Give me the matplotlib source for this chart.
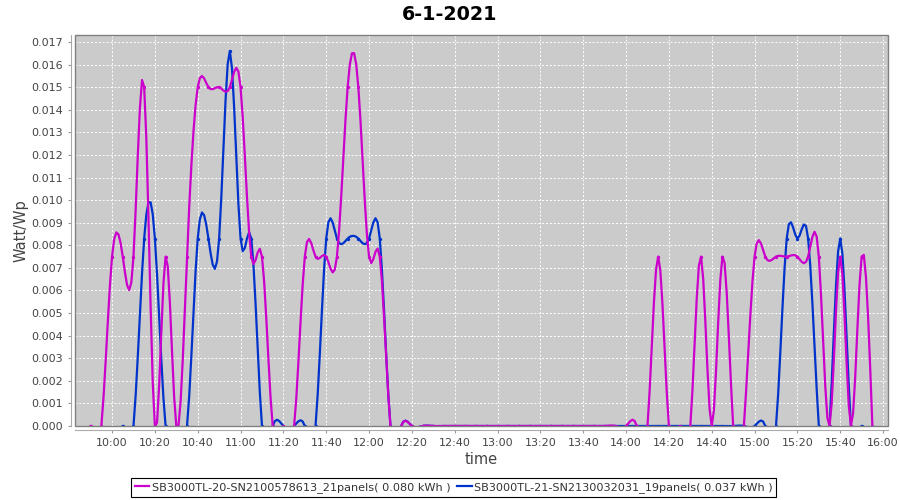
import numpy as np
import matplotlib
matplotlib.use("Agg")
import matplotlib.pyplot as plt
from matplotlib.patches import Rectangle

# ---------------- data ----------------
times = ["09:50", "09:55",
         "10:00", "10:05", "10:10", "10:15", "10:20", "10:25", "10:30", "10:35", "10:40", "10:45", "10:50", "10:55",
         "11:00", "11:05", "11:10", "11:15", "11:20", "11:25", "11:30", "11:35", "11:40", "11:45", "11:50", "11:55",
         "12:00", "12:05", "12:10", "12:15", "12:20", "12:25", "12:30", "12:35", "12:40", "12:45", "12:50", "12:55",
         "13:00", "13:05", "13:10", "13:15", "13:20", "13:25", "13:30", "13:35", "13:40", "13:45", "13:50", "13:55",
         "14:00", "14:05", "14:10", "14:15", "14:20", "14:25", "14:30", "14:35", "14:40", "14:45", "14:50", "14:55",
         "15:00", "15:05", "15:10", "15:15", "15:20", "15:25", "15:30", "15:35", "15:40", "15:45", "15:50", "15:55"]

# SB3000TL-20 (09:50 .. 15:55)
sb20 = [0, 0,
        0.0075, 0.0075, 0.0075, 0.0150, 0, 0.0075, 0, 0.0075, 0.0150, 0.0150, 0.0150, 0.0150,
        0.0150, 0.0075, 0.0075, 0, 0, 0, 0.0075, 0.0075, 0.0075, 0.0075, 0.0150, 0.0150,
        0.0075, 0.0075, 0, 0, 0, 0, 0, 0, 0, 0, 0, 0,
        0, 0, 0, 0, 0, 0, 0, 0, 0, 0, 0, 0,
        0, 0, 0, 0.0075, 0, 0, 0, 0.0075, 0, 0.0075, 0, 0,
        0.0075, 0.0075, 0.0075, 0.0075, 0.0075, 0.0075, 0.0075, 0, 0.0075, 0, 0.0075, 0]

# SB3000TL-21 (10:05 .. 15:50)
sb21_start, sb21_end = "10:05", "15:50"
sb21 = [0, 0, 0.0083, 0.0083, 0, 0, 0, 0.0083, 0.0083, 0.0083, 0.0166,
        0.0083, 0.0083, 0, 0, 0, 0, 0, 0, 0.0083, 0.0083, 0.0083, 0.0083,
        0.0083, 0.0083, 0, 0, 0, 0, 0, 0, 0, 0, 0, 0,
        0, 0, 0, 0, 0, 0, 0, 0, 0, 0, 0, 0,
        0, 0, 0, 0, 0, 0, 0, 0, 0, 0, 0, 0,
        0, 0, 0, 0.0083, 0.0083, 0.0083, 0, 0, 0.0083, 0, 0]

series_labels = ["SB3000TL-20-SN2100578613_21panels( 0.080 kWh )",
                 "SB3000TL-21-SN2130032031_19panels( 0.037 kWh )"]
series_colors = ["#cc00cc", "#0033cc"]

xtick_labels = ["10:00", "10:20", "10:40", "11:00", "11:20", "11:40", "12:00", "12:20", "12:40",
                "13:00", "13:20", "13:40", "14:00", "14:20", "14:40", "15:00", "15:20", "15:40", "16:00"]
ytick_values = [0.000, 0.001, 0.002, 0.003, 0.004, 0.005, 0.006, 0.007, 0.008,
                0.009, 0.010, 0.011, 0.012, 0.013, 0.014, 0.015, 0.016, 0.017]

title = "6-1-2021"
xlabel = "time"
ylabel = "Watt/Wp"


def to_min(s):
    h, m = s.split(":")
    return int(h) * 60 + int(m)


def natural_spline(x, y, per=5):
    x = np.asarray(x, float)
    y = np.asarray(y, float)
    n = len(x)
    h = np.diff(x)
    A = np.zeros((n, n))
    b = np.zeros(n)
    A[0, 0] = 1
    A[-1, -1] = 1
    for i in range(1, n - 1):
        A[i, i - 1] = h[i - 1]
        A[i, i] = 2 * (h[i - 1] + h[i])
        A[i, i + 1] = h[i]
        b[i] = 6 * ((y[i + 1] - y[i]) / h[i] - (y[i] - y[i - 1]) / h[i - 1])
    M = np.linalg.solve(A, b)
    xs, ys = [], []
    for i in range(n - 1):
        t = np.linspace(0, 1, per, endpoint=False)
        xx = x[i] + t * h[i]
        a = x[i + 1] - xx
        bb = xx - x[i]
        yy = (M[i] * a ** 3 / (6 * h[i]) + M[i + 1] * bb ** 3 / (6 * h[i])
              + (y[i] / h[i] - M[i] * h[i] / 6) * a + (y[i + 1] / h[i] - M[i + 1] * h[i] / 6) * bb)
        xs.extend(xx)
        ys.extend(yy)
    xs.append(x[-1])
    ys.append(y[-1])
    return np.array(xs), np.array(ys)


x20 = [to_min(t) for t in times]
i0, i1 = times.index(sb21_start), times.index(sb21_end)
x21 = [to_min(t) for t in times[i0:i1 + 1]]

fig = plt.figure(figsize=(9, 5), dpi=100)
fig.patch.set_facecolor("white")
ax = fig.add_axes([75 / 900, 1 - 426 / 500, (888 - 75) / 900, (426 - 35) / 500])
ax.set_facecolor("#cbcbcb")

handles = []
for xs_, vals, col, lab, z in [(x21, sb21, series_colors[1], series_labels[1], 3),
                               (x20, sb20, series_colors[0], series_labels[0], 4)]:
    sx, sy = natural_spline(xs_, vals, per=5)
    ln, = ax.plot(sx, sy, color=col, lw=1.6, zorder=z, label=lab, solid_joinstyle="round")
    ax.plot(xs_, vals, linestyle="none", marker="o", markersize=1.4, color=col, zorder=z)
    handles.append(ln)
handles = handles[::-1]

span = x20[-1] - x20[0]
ax.set_xlim(x20[0] - 0.02 * span, x20[-1] + 0.02 * span)
ax.set_ylim(0, 0.01731)

xt = [to_min(s) for s in xtick_labels]
ax.set_xticks(xt)
ax.set_xticklabels(xtick_labels)
ax.set_yticks(ytick_values)
ax.set_yticklabels(["%.3f" % v for v in ytick_values])

ax.grid(True, color="white", linestyle=(0, (2, 2)), linewidth=0.7)
ax.set_axisbelow(True)

for side in ["top", "right"]:
    ax.spines[side].set_visible(False)
for side in ["left", "bottom"]:
    ax.spines[side].set_position(("outward", 3))
    ax.spines[side].set_color("#aaaaaa")
    ax.spines[side].set_linewidth(0.8)
ax.add_patch(Rectangle((0, 0), 1, 1, transform=ax.transAxes, fill=False,
                       edgecolor="#808080", linewidth=1.0, clip_on=False, zorder=6))

ax.tick_params(axis="both", direction="out", length=2.5, width=0.8, color="#999999",
               labelcolor="#444444", labelsize=8, pad=3)

ax.set_xlabel(xlabel, fontsize=10.5, color="#444444", labelpad=3)
ax.set_ylabel(ylabel, fontsize=10.5, color="#444444", labelpad=2)

fig.text(0.5, 1 - 14 / 500, title, ha="center", va="center", fontsize=13.8, fontweight="bold", color="black")

leg = fig.legend(handles=handles, labels=[h.get_label() for h in handles], loc="center",
                 bbox_to_anchor=(453.5 / 900, 1 - 487.5 / 500), ncol=2, fontsize=8.1,
                 frameon=True, fancybox=False, edgecolor="black", framealpha=1,
                 handlelength=1.3, handletextpad=0.2, columnspacing=0.6, borderpad=0.35,
                 borderaxespad=0)
leg.get_frame().set_linewidth(0.8)
for t in leg.get_texts():
    t.set_color("#333333")

fig.savefig("out.png", dpi=100)
